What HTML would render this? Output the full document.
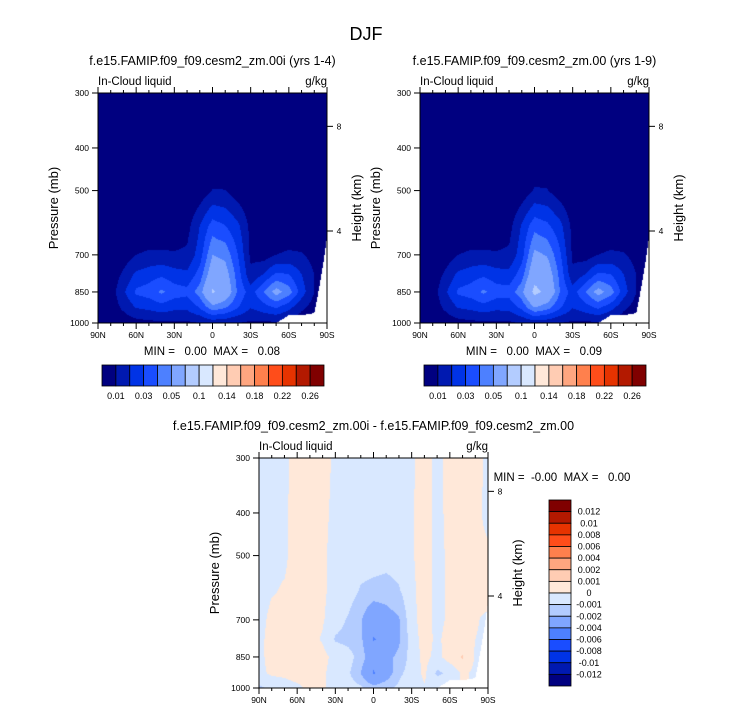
<!DOCTYPE html>
<html><head><meta charset="utf-8">
<style>
body{margin:0;background:#fff;}
#root{position:relative;width:733px;height:712px;overflow:hidden;font-family:"Liberation Sans",sans-serif;color:#000;}
canvas{position:absolute;}
svg{position:absolute;left:0;top:0;}
svg text{white-space:pre;}
</style></head>
<body>
<div id="root">
<canvas id="c1" width="229" height="230" style="left:98px;top:93px"></canvas>
<canvas id="c2" width="229" height="230" style="left:420px;top:93px"></canvas>
<canvas id="c3" width="229" height="230" style="left:259px;top:458px"></canvas>
<svg id="ov" width="733" height="712"></svg>
</div>
<script>
// ---- data ----
const lats = [90,80,70,60,50,40,30,20,10,0,-10,-20,-30,-40,-50,-60,-70,-80,-90];
const levels = [300,400,500,600,700,775,850,925,1000];
const psfc = [1000,1000,1000,1000,1000,1000,1000,1000,1000,1000,1000,1000,1000,1000,1000,960,960,950,640];
const field1 = [
[0,0,0,0,0,0,0,0,0,0,0,0,0,0,0,0,0,0,0],
[0,0,0,0,0,0,0,0,0,0,0,0,0,0,0,0,0,0,0],
[0,0,0,0,0,0,0,0,0.003,0.0105,0.0102,0.004,0,0,0,0,0,0,0],
[0,0,0,0,0,0,0.003,0.006,0.02,0.034,0.03,0.022,0.007,0,0,0,0,0,0],
[0,0,0.004,0.01,0.012,0.012,0.011,0.012,0.025,0.05,0.047,0.03,0.008,0.005,0.01,0.012,0.011,0.006,0],
[0,0.003,0.012,0.022,0.025,0.028,0.024,0.022,0.034,0.06,0.056,0.035,0.012,0.02,0.032,0.03,0.02,0.01,0],
[0,0.005,0.018,0.032,0.035,0.042,0.035,0.033,0.045,0.072,0.062,0.038,0.025,0.04,0.055,0.045,0.025,0.01,0],
[0,0.004,0.012,0.02,0.022,0.025,0.022,0.022,0.03,0.045,0.04,0.03,0.02,0.025,0.03,0.022,0.012,0.005,0],
[0,0,0.003,0.006,0.007,0.008,0.008,0.008,0.01,0.013,0.012,0.01,0.008,0.008,0.008,0.006,0.003,0,0]];
const field2 = [
[0,0,0,0,0,0,0,0,0,0,0,0,0,0,0,0,0,0,0],
[0,0,0,0,0,0,0,0,0,0,0,0,0,0,0,0,0,0,0],
[0,0,0,0,0,0,0,0,0.003,0.011,0.0105,0.004,0,0,0,0,0,0,0],
[0,0,0,0,0,0,0.003,0.006,0.021,0.036,0.032,0.023,0.007,0,0,0,0,0,0],
[0,0,0.004,0.01,0.012,0.012,0.011,0.012,0.026,0.053,0.049,0.032,0.008,0.005,0.01,0.012,0.011,0.006,0],
[0,0.003,0.012,0.022,0.025,0.028,0.024,0.023,0.035,0.063,0.059,0.037,0.012,0.02,0.032,0.03,0.02,0.01,0],
[0,0.005,0.018,0.032,0.035,0.042,0.035,0.034,0.047,0.075,0.065,0.04,0.025,0.04,0.055,0.045,0.025,0.01,0],
[0,0.004,0.012,0.02,0.022,0.025,0.022,0.023,0.032,0.049,0.043,0.031,0.02,0.025,0.031,0.023,0.012,0.005,0],
[0,0,0.003,0.006,0.007,0.008,0.008,0.008,0.011,0.014,0.013,0.01,0.008,0.008,0.008,0.006,0.003,0,0]];
const field3 = [
[-.0005,-.0003,-.0003,.0005,.0005,.0004,-.0002,-.0003,-.0005,-.0005,-.0005,-.0005,-.0002,.0005,-.0003,.0004,.0005,.0005,-.0003],
[-.0005,-.0003,-.0002,.0005,.0005,.0003,-.0003,-.0004,-.0005,-.0005,-.0005,-.0005,-.0001,.0005,-.0003,.0003,.0005,.0003,-.0003],
[-.0005,-.0002,-.0002,.0005,.0005,.0002,-.0004,-.0004,-.0005,-.0005,-.0006,-.0005,-.0001,.0004,-.0003,.0002,.0004,.0002,.0002],
[-.0005,-.0001,.0001,.0005,.0005,.0002,-.0004,-.0005,-.0011,-.0013,-.0014,-.0011,-.0002,.0004,-.0003,.0002,.0004,.0001,.0005],
[-.0004,.0003,.0003,.0005,.0004,.0001,-.0006,-.0011,-.0019,-.0032,-.0026,-.0021,-.0003,.0004,-.0003,.0002,.0003,.0001,-.0002],
[-.0003,.0004,.0002,.0004,.0003,-.0001,-.0011,-.0013,-.0017,-.0041,-.0036,-.0022,-.0005,.0004,-.0002,.0004,.0003,0,-.0002],
[-.0003,.0004,.0002,.0004,.0006,.0003,-.0003,-.0006,-.0014,-.003,-.0024,-.0017,-.0006,.0003,-.0003,.0005,.0011,-.0001,-.0002],
[-.0003,.0002,.0002,.0004,.0004,.0002,-.0005,-.0008,-.002,-.0042,-.0028,-.0012,-.0006,.0002,-.0012,-.0008,.0002,-.0002,-.0002],
[-.0012,-.0008,-.0004,-.0002,.0002,.0001,-.0003,-.0005,-.0008,-.0015,-.0012,-.0008,-.0004,-.0001,-.0003,-.0002,0,0,0]];
const bounds1 = [0.01,0.02,0.03,0.04,0.05,0.07,0.1,0.12,0.14,0.16,0.18,0.2,0.22,0.24,0.26];
const bounds3 = [-0.012,-0.01,-0.008,-0.006,-0.004,-0.002,-0.001,0,0.001,0.002,0.004,0.006,0.008,0.01,0.012];
const labels1 = ["0.01","0.03","0.05","0.1","0.14","0.18","0.22","0.26"];
const labels3 = ["0.012","0.01","0.008","0.006","0.004","0.002","0.001","0","-0.001","-0.002","-0.004","-0.006","-0.008","-0.01","-0.012"];
const colors = ["#000080","#0019b0","#0033e6","#1a4dff","#4d80ff","#80a6ff","#b3ccff","#d9e8ff","#ffe8d9","#ffccb3","#ffa680","#ff804d","#ff4d1a","#e63300","#b31900","#800000"];
const latTicks = ["90N","60N","30N","0","30S","60S","90S"];
const pTicks = [300,400,500,700,850,1000];
const hTicks = [{v:"8",f:0.145},{v:"4",f:0.6}];
const W=229,H=230;
// ---- axis funcs ----
const xOfLat = l => (90-l)/180*W;
const yOfP = p => Math.log(p/300)/Math.log(1000/300)*H;
function rgb(h){return [parseInt(h.substr(1,2),16),parseInt(h.substr(3,2),16),parseInt(h.substr(5,2),16)];}
const crgb = colors.map(rgb);
function drawField(id, field, bounds){
  const cv=document.getElementById(id), ctx=cv.getContext('2d');
  const img=ctx.createImageData(W,H);
  const ly=levels.map(yOfP);
  for(let py=0;py<H;py++){
    const y=py+0.5;
    let r=0; while(r<levels.length-2 && ly[r+1]<y) r++;
    const fy=Math.min(1,Math.max(0,(y-ly[r])/(ly[r+1]-ly[r])));
    const pres=300*Math.pow(1000/300,y/H);
    for(let px=0;px<W;px++){
      const x=px+0.5;
      const lf=x/W*(lats.length-1);
      let c=Math.min(lats.length-2,Math.floor(lf)); const fx=lf-c;
      const v=(1-fy)*((1-fx)*field[r][c]+fx*field[r][c+1])+fy*((1-fx)*field[r+1][c]+fx*field[r+1][c+1]);
      const ps=(1-fx)*psfc[c]+fx*psfc[c+1];
      let k=(py*W+px)*4, col;
      if(pres>ps){col=[255,255,255];}
      else{let i=0; while(i<bounds.length && v>=bounds[i]) i++; col=crgb[i];}
      img.data[k]=col[0];img.data[k+1]=col[1];img.data[k+2]=col[2];img.data[k+3]=255;
    }
  }
  ctx.putImageData(img,0,0);
}
drawField('c1',field1,bounds1);
drawField('c2',field2,bounds1);
drawField('c3',field3,bounds3);

const NS="http://www.w3.org/2000/svg", ov=document.getElementById('ov');
function el(tag,attrs,parent){const e=document.createElementNS(NS,tag);for(const k in attrs)e.setAttribute(k,attrs[k]);(parent||ov).appendChild(e);return e;}
function txt(s,x,y,size,anchor,name,rot){
  const t=el('text',{x:x,y:y,'font-size':size,'text-anchor':anchor||'middle','font-family':'Liberation Sans, sans-serif'});
  if(rot) t.setAttribute('transform','rotate(-90 '+x+' '+y+')');
  t.textContent=s;
  
  
  return t;
}
function panel(x0,y0,title,mm,mmx,mmy,pre){
  const g=el('g',{});
  
  
  el('rect',{x:x0,y:y0,width:W,height:H,fill:'none',stroke:'#000','stroke-width':1},g);
  for(let l=90;l>=-90;l-=10){
    const x=x0+xOfLat(l), major=(l%30===0);
    const len=major?6:3;
    el('line',{x1:x,y1:y0+H,x2:x,y2:y0+H+len,stroke:'#000','stroke-width':1},g);
    el('line',{x1:x,y1:y0,x2:x,y2:y0-len,stroke:'#000','stroke-width':1},g);
  }
  latTicks.forEach((s,i)=>{txt(s,x0+xOfLat(90-30*i),y0+H+15,8.5,'middle',pre+'-lat-label');});
  pTicks.forEach(p=>{const y=y0+yOfP(p);
    el('line',{x1:x0-6,y1:y,x2:x0,y2:y,stroke:'#000','stroke-width':1},g);
    txt(String(p),x0-9,y+3,8.5,'end',pre+'-pressure-label');});
  hTicks.forEach(h=>{const y=y0+h.f*H;
    el('line',{x1:x0+W,y1:y,x2:x0+W+6,y2:y,stroke:'#000','stroke-width':1},g);
    txt(h.v,x0+W+12,y+3,8.5,'middle',pre+'-height-label');});
  txt(title,x0+W/2,y0-28,12.5,'middle',pre+'-title');
  txt('In-Cloud liquid',x0,y0-8,11.5,'start',pre+'-variable-label');
  txt('g/kg',x0+W,y0-8,11.5,'end',pre+'-units-label');
  txt('Pressure (mb)',x0-40,y0+H/2,13,'middle',pre+'-y-axis-title',true);
  txt('Height (km)',x0+W+34,y0+H/2,13,'middle',pre+'-right-axis-title',true);
  txt(mm,mmx,mmy,11.5,'middle',pre+'-min-max');
}
txt('DJF',366,40,18,'middle','figure-title');
panel(98,93,'f.e15.FAMIP.f09_f09.cesm2_zm.00i (yrs 1-4)','MIN =   0.00  MAX =   0.08',212,355,'panel-1');
panel(420,93,'f.e15.FAMIP.f09_f09.cesm2_zm.00 (yrs 1-9)','MIN =   0.00  MAX =   0.09',534,355,'panel-2');
panel(259,458,'f.e15.FAMIP.f09_f09.cesm2_zm.00i - f.e15.FAMIP.f09_f09.cesm2_zm.00','MIN =  -0.00  MAX =   0.00',562,481,'panel-diff');
function hbar(x0,y0,w,h,pre){
  const bw=w/colors.length;
  colors.forEach((c,i)=>{const r=el('rect',{x:x0+i*bw,y:y0,width:bw,height:h,fill:c,stroke:'#000','stroke-width':0.8});
    
    });
  labels1.forEach((s,i)=>txt(s,x0+(2*i+1)*bw,y0+h+13,9,'middle',pre+'-colorbar-label'));
}
hbar(102,365,222,21,'panel-1');
hbar(424,365,222,21,'panel-2');
(function(){
  const x0=549,y0=500,w=22,h=186,bh=h/colors.length;
  colors.slice().reverse().forEach((c,i)=>{const r=el('rect',{x:x0,y:y0+i*bh,width:w,height:bh,fill:c,stroke:'#000','stroke-width':0.8});
    
    });
  labels3.forEach((s,i)=>txt(s,x0+w+18,y0+(i+1)*bh+3,9,'middle','diff-colorbar-label'));
})();
</script>
</body></html>
